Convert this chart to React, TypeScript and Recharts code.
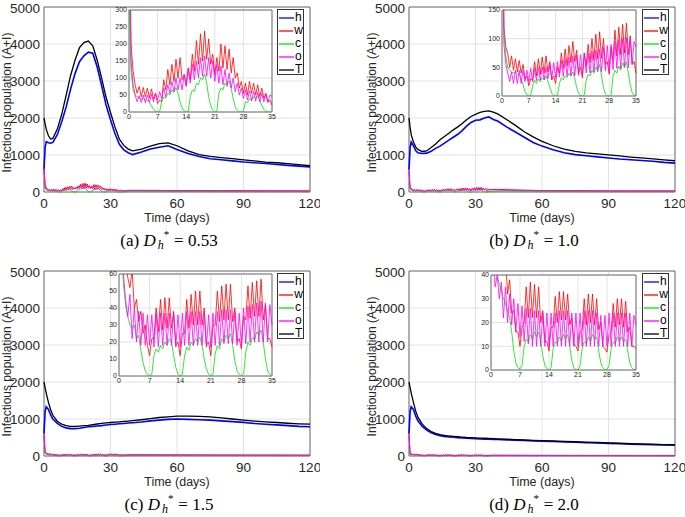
import React from "react";
import { CartesianGrid, Legend, Line, LineChart, ReferenceArea, XAxis, YAxis } from "recharts";

// time grids (days)
const MAIN_DAYS = [0, 0.5, 1, 2, 3, 4, 6, 8, 10, 12, 14, 16, 18, 20, 22, 24, 26, 28, 30, 32, 34, 36, 38, 40, 44, 48, 52, 56, 60, 65, 70, 75, 80, 85, 90, 95, 100, 105, 110, 115, 120];
const INSET_DAYS = Array.from({ length: 71 }, (_, i) => i / 2);
const TAIL_DAYS = [36, 38, 40, 45, 50, 55, 60, 70, 80, 90, 100, 110, 120];

const MAIN_X_TICKS = [0, 30, 60, 90, 120];
const MAIN_Y_TICKS = [0, 1000, 2000, 3000, 4000, 5000];
const INSET_X_TICKS = [0, 7, 14, 21, 28, 35];
const SERIES_ORDER = ["h", "w", "c", "o", "T"];

// (a) D*h = 0.53
const H_A = [600, 1200, 1360, 1330, 1320, 1340, 1550, 1900, 2300, 2780, 3200, 3520, 3680, 3780, 3750, 3380, 2880, 2350, 1950, 1580, 1290, 1140, 1060, 1010, 1080, 1160, 1210, 1250, 1150, 1040, 960, 900, 870, 840, 810, 790, 770, 745, 720, 700, 680];
const T_A = [2000, 1850, 1700, 1520, 1430, 1450, 1700, 2100, 2620, 3150, 3560, 3900, 4040, 4080, 3950, 3560, 3080, 2560, 2150, 1760, 1430, 1260, 1160, 1110, 1160, 1240, 1310, 1330, 1250, 1110, 1010, 960, 930, 900, 870, 840, 810, 790, 765, 740, 710];
const W_A = [600, 200, 120, 80, 55, 75, 45, 72, 45, 70, 42, 68, 38, 55, 25, 35, 30, 95, 65, 125, 80, 140, 90, 155, 100, 160, 95, 110, 80, 130, 95, 170, 120, 210, 140, 230, 150, 238, 155, 215, 140, 170, 110, 160, 120, 200, 130, 195, 125, 185, 115, 160, 100, 115, 70, 90, 55, 85, 50, 90, 55, 85, 50, 80, 45, 70, 40, 55, 30, 35, 20];
const C_A = [320, 120, 65, 50, 45, 42, 38, 40, 35, 35, 28, 18, 8, 2, 0, 1, 30, 45, 40, 55, 50, 65, 58, 72, 55, 30, 12, 3, 0, 1, 45, 65, 60, 85, 80, 100, 95, 112, 85, 45, 18, 5, 0, 2, 55, 70, 65, 85, 80, 92, 70, 40, 15, 5, 0, 0, 2, 30, 28, 40, 35, 45, 40, 48, 35, 20, 8, 2, 0, 0, 2];
const O_A = [650, 150, 80, 50, 30, 48, 28, 50, 27, 50, 28, 52, 30, 55, 35, 60, 40, 70, 45, 80, 55, 90, 60, 100, 65, 100, 65, 110, 75, 125, 85, 140, 95, 150, 100, 160, 105, 165, 105, 160, 100, 150, 90, 140, 85, 135, 80, 125, 75, 115, 70, 100, 60, 85, 50, 70, 40, 65, 35, 62, 33, 60, 32, 58, 30, 55, 30, 52, 28, 50, 45];
const W_A_TAIL = [25, 45, 45, 45, 45, 40, 40, 38, 36, 35, 33, 31, 30];
const C_A_TAIL = [3, 15, 20, 20, 18, 17, 15, 14, 12, 11, 10, 10, 9];
const O_A_TAIL = [40, 40, 40, 38, 37, 36, 35, 33, 32, 30, 29, 28, 27];

// (b) D*h = 1.0
const H_B = [600, 1200, 1350, 1250, 1120, 1060, 1040, 1050, 1100, 1180, 1240, 1320, 1400, 1480, 1560, 1660, 1780, 1880, 1940, 1950, 2000, 2030, 1960, 1920, 1760, 1620, 1480, 1340, 1240, 1140, 1060, 1010, 980, 950, 920, 890, 870, 850, 830, 800, 780];
const T_B = [2000, 1750, 1550, 1350, 1220, 1150, 1095, 1110, 1200, 1300, 1410, 1500, 1590, 1680, 1760, 1850, 1950, 2040, 2100, 2150, 2180, 2190, 2160, 2110, 1960, 1800, 1630, 1490, 1370, 1250, 1160, 1100, 1060, 1030, 1005, 975, 945, 920, 895, 870, 845];
const W_B = [550, 120, 85, 75, 50, 70, 45, 65, 42, 62, 40, 55, 30, 35, 18, 30, 28, 60, 35, 65, 38, 68, 40, 70, 42, 60, 28, 35, 22, 50, 40, 75, 48, 82, 52, 88, 58, 95, 60, 80, 40, 50, 32, 75, 52, 90, 58, 100, 62, 108, 65, 112, 66, 100, 55, 60, 38, 85, 62, 115, 70, 120, 72, 125, 75, 127, 72, 105, 55, 60, 40];
const C_B = [250, 110, 70, 50, 45, 42, 40, 42, 38, 38, 30, 20, 8, 2, 0, 1, 18, 28, 22, 30, 25, 32, 28, 35, 25, 15, 5, 1, 0, 1, 22, 32, 28, 35, 32, 40, 35, 42, 30, 15, 5, 1, 0, 2, 28, 38, 35, 45, 40, 50, 45, 55, 35, 15, 3, 0, 0, 2, 35, 45, 40, 52, 45, 58, 50, 60, 40, 20, 6, 1, 0];
const O_B = [600, 90, 55, 40, 25, 42, 22, 45, 22, 45, 22, 45, 25, 45, 25, 48, 25, 48, 27, 48, 28, 50, 28, 50, 30, 55, 30, 58, 32, 60, 33, 62, 34, 65, 35, 68, 35, 70, 35, 72, 36, 72, 38, 75, 40, 75, 40, 78, 42, 80, 42, 82, 42, 85, 44, 88, 45, 90, 46, 95, 48, 98, 48, 100, 50, 102, 50, 100, 55, 95, 85];
const W_B_TAIL = [60, 70, 70, 60, 50, 45, 40, 35, 35, 30, 30, 30, 28];
const C_B_TAIL = [10, 20, 25, 25, 22, 20, 18, 15, 12, 10, 10, 10, 10];
const O_B_TAIL = [60, 60, 55, 50, 45, 40, 35, 32, 30, 28, 26, 25, 24];

// (c) D*h = 1.5
const H_C = [600, 1200, 1330, 1260, 1110, 1000, 880, 800, 760, 740, 740, 750, 770, 790, 800, 810, 820, 840, 850, 860, 870, 880, 890, 900, 920, 950, 970, 990, 1000, 990, 980, 970, 950, 930, 910, 880, 860, 840, 820, 800, 790];
const T_C = [2000, 1850, 1700, 1450, 1250, 1100, 940, 860, 820, 800, 800, 810, 820, 830, 850, 865, 880, 895, 905, 915, 925, 935, 945, 955, 980, 1010, 1040, 1060, 1075, 1078, 1070, 1055, 1030, 1000, 970, 945, 925, 905, 885, 870, 860];
const W_C = [550, 100, 80, 70, 58, 52, 62, 40, 45, 32, 38, 25, 30, 18, 12, 22, 22, 40, 26, 45, 27, 46, 28, 46, 28, 38, 18, 20, 12, 25, 25, 45, 28, 48, 30, 50, 30, 50, 30, 40, 18, 20, 12, 30, 30, 50, 32, 53, 33, 54, 33, 54, 32, 40, 20, 22, 16, 35, 33, 53, 34, 55, 35, 56, 35, 57, 33, 42, 22, 22, 17];
const C_C = [250, 80, 55, 42, 35, 30, 28, 30, 22, 24, 15, 8, 3, 1, 0, 1, 12, 16, 14, 18, 16, 20, 18, 22, 20, 12, 5, 1, 0, 1, 12, 17, 15, 20, 18, 22, 20, 23, 18, 10, 4, 1, 0, 1, 13, 18, 16, 22, 20, 24, 22, 25, 18, 9, 3, 1, 0, 1, 14, 20, 18, 23, 21, 26, 24, 27, 20, 10, 3, 1, 0];
const O_C = [600, 90, 60, 45, 35, 48, 22, 40, 20, 38, 18, 37, 18, 36, 18, 36, 17, 37, 17, 37, 18, 37, 18, 37, 18, 37, 17, 36, 17, 37, 18, 38, 18, 38, 18, 38, 18, 38, 18, 37, 17, 36, 17, 37, 18, 38, 18, 39, 19, 39, 19, 39, 19, 38, 18, 37, 18, 40, 19, 41, 20, 42, 20, 43, 20, 44, 20, 43, 20, 42, 30];
const W_C_TAIL = [20, 35, 35, 33, 32, 30, 30, 28, 27, 26, 25, 24, 23];
const C_C_TAIL = [5, 12, 15, 15, 14, 14, 13, 12, 11, 10, 10, 9, 9];
const O_C_TAIL = [30, 28, 28, 27, 27, 26, 26, 25, 24, 23, 22, 21, 20];

// (d) D*h = 2.0
const H_D = [600, 1200, 1330, 1260, 1080, 950, 800, 700, 625, 580, 550, 530, 515, 505, 495, 485, 478, 472, 466, 461, 456, 452, 448, 444, 436, 428, 420, 410, 400, 390, 380, 370, 360, 350, 340, 330, 320, 310, 303, 296, 290];
const T_D = [2000, 1850, 1700, 1450, 1220, 1050, 860, 740, 660, 610, 575, 555, 540, 530, 520, 510, 500, 495, 490, 485, 480, 475, 470, 465, 455, 445, 435, 425, 415, 405, 395, 385, 375, 365, 355, 345, 335, 325, 318, 310, 305];
const W_D = [550, 90, 60, 48, 42, 50, 40, 48, 32, 38, 24, 25, 16, 16, 10, 18, 20, 35, 22, 37, 22, 36, 22, 35, 20, 25, 12, 12, 8, 18, 18, 31, 20, 33, 21, 33, 21, 32, 19, 22, 11, 10, 8, 16, 17, 30, 19, 32, 20, 32, 19, 30, 17, 20, 10, 9, 7.5, 15, 16, 28, 18, 30, 19, 30, 18, 29, 16, 18, 10, 10, 9];
const C_D = [250, 48, 42, 40, 36, 34, 30, 28, 25, 22, 16, 8, 3, 1, 0.5, 2, 10, 13, 12, 15, 13, 16, 14, 16, 12, 6, 2, 0.5, 0, 1, 9, 12, 11, 14, 12, 15, 13, 15, 10, 4, 1, 0, 0, 2, 9, 12, 11, 14, 12, 15, 13, 14, 8, 3, 1, 0, 0, 2, 9, 12, 11, 14, 12, 14, 12, 13, 8, 3, 1, 0, 0.5];
const O_D = [600, 45, 35, 40, 30, 37, 22, 35, 20, 32, 19, 30, 16, 28, 14, 27, 12, 26, 11, 26, 10, 25, 10, 25, 10, 24, 10, 24, 10, 24, 10, 24, 10, 25, 10, 25, 10, 25, 10, 24, 10, 24, 10, 24, 10, 25, 10, 25, 10, 25, 10, 24, 10, 23, 10, 23, 10, 24, 10, 24, 10, 24, 10, 24, 10, 24, 10, 24, 10, 23, 19];
const W_D_TAIL = [10, 20, 20, 19, 18, 17, 16, 15, 14, 13, 12, 11, 10];
const C_D_TAIL = [3, 8, 9, 9, 8, 8, 7, 7, 6, 6, 5, 5, 5];
const O_D_TAIL = [19, 18, 17, 17, 16, 15, 14, 13, 12, 11, 10, 10, 9];

const SANS = '"Liberation Sans", Arial, Helvetica, sans-serif';
const SERIF = '"Liberation Serif", "Times New Roman", serif';
const COLORS = { h: "#0000ff", w: "#ff0000", c: "#00e000", o: "#ff00ff", T: "#000000" };
const AXIS_TEXT = "#262626";
const GRID = "#e2e2e2";
const FRAME = "#6e6e6e";

const PANELS = [
  {
    tag: "a", dh: "0.53", left: 0, top: 0,
    h: H_A, T: T_A, w: W_A, c: C_A, o: O_A, wTail: W_A_TAIL, cTail: C_A_TAIL, oTail: O_A_TAIL,
    insetMax: 300, insetTicks: [0, 50, 100, 150, 200, 250, 300],
    inset: { x: 129, y: 10, w: 143, h: 102 },
  },
  {
    tag: "b", dh: "1.0", left: 365, top: 0,
    h: H_B, T: T_B, w: W_B, c: C_B, o: O_B, wTail: W_B_TAIL, cTail: C_B_TAIL, oTail: O_B_TAIL,
    insetMax: 150, insetTicks: [0, 50, 100, 150],
    inset: { x: 137, y: 10, w: 134, h: 86 },
  },
  {
    tag: "c", dh: "1.5", left: 0, top: 264,
    h: H_C, T: T_C, w: W_C, c: C_C, o: O_C, wTail: W_C_TAIL, cTail: C_C_TAIL, oTail: O_C_TAIL,
    insetMax: 60, insetTicks: [0, 10, 20, 30, 40, 50, 60],
    inset: { x: 119, y: 10, w: 153, h: 102 },
  },
  {
    tag: "d", dh: "2.0", left: 365, top: 264,
    h: H_D, T: T_D, w: W_D, c: C_D, o: O_D, wTail: W_D_TAIL, cTail: C_D_TAIL, oTail: O_D_TAIL,
    insetMax: 40, insetTicks: [0, 10, 20, 30, 40],
    inset: { x: 126, y: 11, w: 145, h: 95 },
  },
];

const pts = (days: number[], vals: number[], key: string) => days.map((t, i) => ({ t, [key]: vals[i] }));

const yLabel = (props: any) => {
  const vb = props.viewBox;
  const cx = vb.x + 7;
  const cy = vb.y + vb.height / 2 + 3;
  return (
    <text x={cx} y={cy} transform={`rotate(-90 ${cx} ${cy})`} textAnchor="middle" dominantBaseline="central"
      fontFamily={SANS} fontSize={12} fill={AXIS_TEXT}>
      Infectious population (A+I)
    </text>
  );
};

const xLabel = (props: any) => {
  const vb = props.viewBox;
  return (
    <text x={vb.x + vb.width / 2} y={vb.y + 26} textAnchor="middle" dominantBaseline="central"
      fontFamily={SANS} fontSize={12.5} fill={AXIS_TEXT}>
      Time (days)
    </text>
  );
};

const LegendBox = (props: any) => {
  const items = [...(props.payload || [])].sort(
    (a: any, b: any) => SERIES_ORDER.indexOf(a.value) - SERIES_ORDER.indexOf(b.value)
  );
  return (
    <div style={{ width: 27, height: 66, border: "1px solid #333", background: "#fff", boxSizing: "border-box", paddingTop: 1, fontFamily: SANS, fontSize: 12 }}>
      {items.map((e: any) => (
        <div key={e.value} style={{ display: "flex", alignItems: "center", height: 13 }}>
          <svg width={15} height={4} style={{ marginLeft: 1 }}>
            <line x1={0} y1={2} x2={15} y2={2} stroke={e.color} strokeWidth={1.3} />
          </svg>
          <span style={{ marginLeft: 1, lineHeight: "13px", color: "#000" }}>{e.value}</span>
        </div>
      ))}
    </div>
  );
};

// caption like "(a) D*_h = 0.53" with stacked super/subscript
function Caption({ tag, value }: { tag: string; value: string }) {
  return (
    <div style={{ position: "absolute", left: 0, top: 231, width: 338, height: 20, textAlign: "center", fontFamily: SERIF, fontSize: 17, lineHeight: "20px", color: "#000", whiteSpace: "nowrap" }}>
      ({tag}) <i>D</i>
      <span style={{ display: "inline-block", position: "relative", width: 13, height: 14, lineHeight: 1, marginLeft: 1 }}>
        <span style={{ position: "absolute", left: 7, top: -3, fontSize: 11, lineHeight: "10px" }}>*</span>
        <i style={{ position: "absolute", left: 1, top: 8, fontSize: 12, lineHeight: "11px" }}>h</i>
      </span>
      {" = "}{value}
    </div>
  );
}

function Panel({ p }: { p: (typeof PANELS)[number] }) {
  const ins = p.inset;
  const wData = [...pts(INSET_DAYS, p.w, "w"), ...pts(TAIL_DAYS, p.wTail, "w")];
  const cData = [...pts(INSET_DAYS, p.c, "c"), ...pts(TAIL_DAYS, p.cTail, "c")];
  const oData = [...pts(INSET_DAYS, p.o, "o"), ...pts(TAIL_DAYS, p.oTail, "o")];
  const mainTick = { fontSize: 13.5, fill: AXIS_TEXT, fontFamily: SANS };
  const insetTick = { fontSize: 7, fill: AXIS_TEXT, fontFamily: SANS };
  return (
    <div style={{ position: "absolute", left: p.left, top: p.top, width: 345, height: 253 }}>
      <div style={{ position: "absolute", left: 0, top: 0 }}>
        <LineChart width={320} height={230} margin={{ top: 7, right: 10, left: 0, bottom: 0 }}>
          <CartesianGrid stroke={GRID} />
          <XAxis type="number" dataKey="t" domain={[0, 120]} ticks={MAIN_X_TICKS} height={38}
            axisLine={false} tickLine={false} tickSize={0} tickMargin={6} tick={mainTick} label={xLabel} />
          <YAxis type="number" domain={[0, 5000]} ticks={MAIN_Y_TICKS} width={44}
            axisLine={false} tickLine={false} tickSize={0} tickMargin={4} tick={mainTick} label={yLabel} />
          <ReferenceArea x1={0} x2={120} y1={0} y2={5000} fill="none" stroke={FRAME} strokeWidth={1} />
          <Line data={pts(MAIN_DAYS, p.h, "h")} dataKey="h" name="h" stroke={COLORS.h} strokeWidth={1.6} dot={false} activeDot={false} isAnimationActive={false} />
          <Line data={wData} dataKey="w" name="w" stroke={COLORS.w} strokeWidth={1} dot={false} activeDot={false} isAnimationActive={false} />
          <Line data={cData} dataKey="c" name="c" stroke={COLORS.c} strokeWidth={1} dot={false} activeDot={false} isAnimationActive={false} />
          <Line data={oData} dataKey="o" name="o" stroke={COLORS.o} strokeWidth={1} dot={false} activeDot={false} isAnimationActive={false} />
          <Line data={pts(MAIN_DAYS, p.T, "T")} dataKey="T" name="T" stroke={COLORS.T} strokeWidth={1.3} dot={false} activeDot={false} isAnimationActive={false} />
          <Legend layout="vertical" align="center" verticalAlign="middle" content={LegendBox}
            wrapperStyle={{ left: 277, top: 9, width: 27, height: 66 }} />
        </LineChart>
      </div>
      <div style={{ position: "absolute", left: ins.x - 18, top: ins.y - 4 }}>
        <LineChart width={ins.w + 22} height={ins.h + 15} margin={{ top: 4, right: 4, left: 0, bottom: 0 }}>
          <CartesianGrid stroke={GRID} fill="#ffffff" fillOpacity={1} />
          <XAxis type="number" dataKey="t" domain={[0, 35]} ticks={INSET_X_TICKS} height={11}
            axisLine={false} tickLine={false} tickSize={0} tickMargin={2} tick={insetTick} />
          <YAxis type="number" domain={[0, p.insetMax]} ticks={p.insetTicks} width={18} allowDataOverflow
            axisLine={false} tickLine={false} tickSize={0} tickMargin={2} tick={insetTick} />
          <ReferenceArea x1={0} x2={35} y1={0} y2={p.insetMax} fill="none" stroke={FRAME} strokeWidth={1} />
          <Line data={pts(INSET_DAYS, p.w, "w")} dataKey="w" stroke={COLORS.w} strokeWidth={0.8} dot={false} activeDot={false} isAnimationActive={false} />
          <Line data={pts(INSET_DAYS, p.c, "c")} dataKey="c" stroke={COLORS.c} strokeWidth={0.8} dot={false} activeDot={false} isAnimationActive={false} />
          <Line data={pts(INSET_DAYS, p.o, "o")} dataKey="o" stroke={COLORS.o} strokeWidth={0.8} dot={false} activeDot={false} isAnimationActive={false} />
        </LineChart>
      </div>
      <Caption tag={p.tag} value={p.dh} />
    </div>
  );
}

export default function App() {
  return (
    <div style={{ position: "absolute", left: 0, top: 0, width: 685, height: 517, background: "#fff" }}>
      {PANELS.map((p) => (
        <Panel key={p.tag} p={p} />
      ))}
    </div>
  );
}
